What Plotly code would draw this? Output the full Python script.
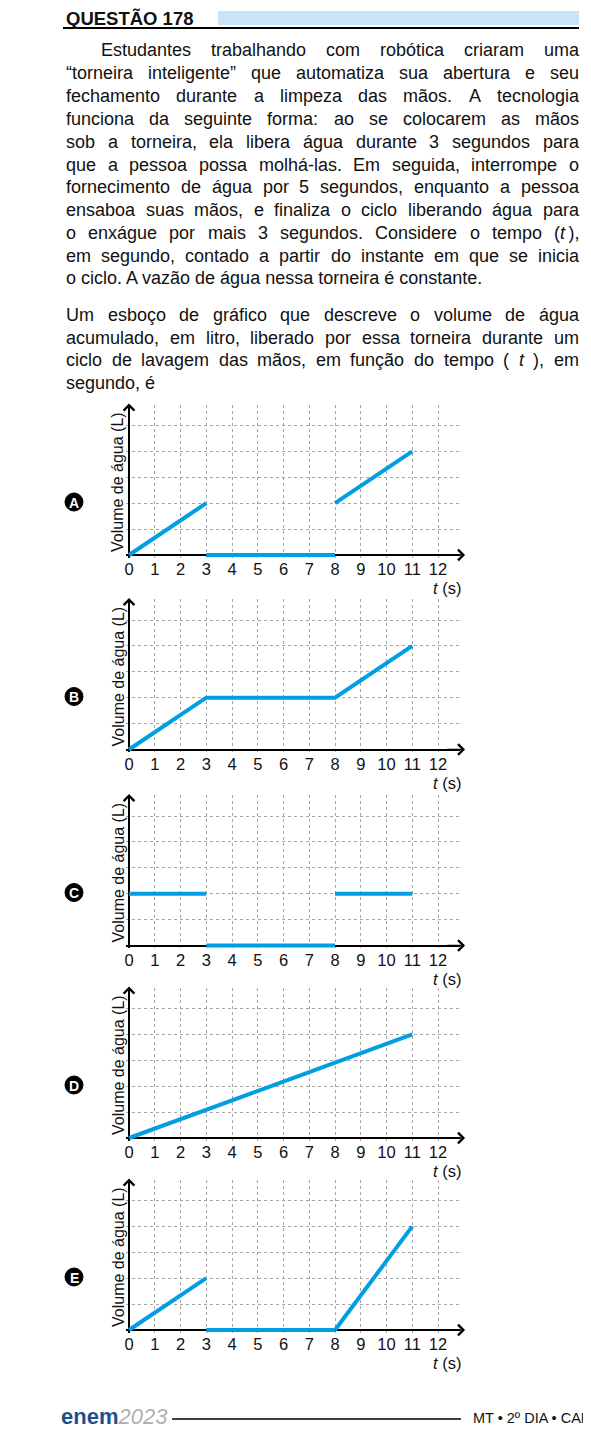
import plotly.graph_objects as go

W, H = 591, 1429
OFF = 8  # page margin around the plot div
FONT = "Liberation Sans, Arial, Helvetica, sans-serif"
BLUE = "#009fe3"
GRID = "#a6a6a6"

# ---------------------------------------------------------------------------
# Data
# ---------------------------------------------------------------------------

option_letters = ["A", "B", "C", "D", "E"]

# line pieces of each sketch: time (s) and volume (grid units)
a_t = [[0, 3], [3, 8], [8, 11]]
a_vol = [[0, 2], [0, 0], [2, 4]]
b_t = [[0, 3, 8, 11]]
b_vol = [[0, 2, 2, 4]]
c_t = [[0, 3], [3, 8], [8, 11]]
c_vol = [[2, 2], [0, 0], [2, 2]]
d_t = [[0, 11]]
d_vol = [[0, 4]]
e_t = [[0, 3], [3, 8], [8, 11]]
e_vol = [[0, 2], [0, 0], [0, 4]]

option_t = [a_t, b_t, c_t, d_t, e_t]
option_vol = [a_vol, b_vol, c_vol, d_vol, e_vol]

t_ticks = list(range(13))
t_tick_labels = [str(t) for t in t_ticks]
vol_grid = [1, 2, 3, 4, 5]
y_title = "Volume de água (L)"

header_text = "QUESTÃO 178"
para1 = [
    "Estudantes trabalhando com robótica criaram uma",
    "“torneira inteligente” que automatiza sua abertura e seu",
    "fechamento durante a limpeza das mãos. A tecnologia",
    "funciona da seguinte forma: ao se colocarem as mãos",
    "sob a torneira, ela libera água durante 3 segundos para",
    "que a pessoa possa molhá-las. Em seguida, interrompe o",
    "fornecimento de água por 5 segundos, enquanto a pessoa",
    "ensaboa suas mãos, e finaliza o ciclo liberando água para",
    "o enxágue por mais 3 segundos. Considere o tempo (<i>t</i>\u2009),",
    "em segundo, contado a partir do instante em que se inicia",
    "o ciclo. A vazão de água nessa torneira é constante.",
]
para2 = [
    "Um esboço de gráfico que descreve o volume de água",
    "acumulado, em litro, liberado por essa torneira durante um",
    "ciclo de lavagem das mãos, em função do tempo ( <i>t</i> ), em",
    "segundo, é",
]
footer_text = "MT • 2º DIA • CADERNO 5"

# ---------------------------------------------------------------------------
# Geometry (pixels of the page)
# ---------------------------------------------------------------------------

AXIS_Y_PX = [555, 749.5, 945.5, 1138, 1330]
X0_PX = 129
UNIT_X = 25.75
UNIT_Y = 25.9
X_MAX = 12.85
Y_MAX = 5.8
PAD = 0.1          # room below/left of zero so the thick blue lines are not clipped
TEXT_L, TEXT_R, INDENT = 65, 578, 100
BODY_SIZE = 18


def px(x):
    return (x - OFF) / W


def py(y):
    return 1 - (y - OFF) / H


# Helvetica/Arial advance widths (per 1000 em), used to justify the text
CHAR_W = {}
for chars, w in [
    ("abdeghnopquáàãâéêóõôú0123456789", 556),
    ("cksvxyzç", 500),
    ("ijl", 222),
    ("ft ,.:;í", 278),
    ("r()-“”", 333),
    ("m", 833),
    ("wCUDHN", 722),
    ("AEÃSBKPVXY", 667),
    ("OQG", 778),
    ("TFZ", 611),
    ("M", 833),
    ("\u2009", 167),
]:
    for ch in chars:
        CHAR_W[ch] = w


def text_w(s, size):
    s = s.replace("<i>", "").replace("</i>", "")
    return sum(CHAR_W.get(c, 556) for c in s) * size / 1000


def text_ann(x, y, text, size=BODY_SIZE, anchor="left", **kw):
    d = dict(x=px(x), y=py(y), xref="paper", yref="paper", text=text,
             showarrow=False, xanchor=anchor, yanchor="middle", borderpad=0,
             font=dict(family=FONT, size=size, color=kw.pop("color", "#111")))
    d.update(kw)
    return d


def paragraph(lines, y0, step, indent_first):
    anns = []
    for i, line in enumerate(lines):
        y = y0 + i * step
        left = INDENT if (i == 0 and indent_first) else TEXT_L
        if i == len(lines) - 1:
            anns.append(text_ann(left, y, line))
            continue
        words = line.split(" ")
        total = sum(text_w(w, BODY_SIZE) for w in words)
        gap = (TEXT_R - left - total) / (len(words) - 1)
        x = left
        for w in words:
            anns.append(text_ann(x, y, w))
            x += text_w(w, BODY_SIZE) + gap
    return anns


# ---------------------------------------------------------------------------
# Figure
# ---------------------------------------------------------------------------

fig = go.Figure()
annotations = []
shapes = []
axes = {}

for k, letter in enumerate(option_letters):
    n = "" if k == 0 else str(k + 1)
    base = AXIS_Y_PX[k]

    for ts, vs in zip(option_t[k], option_vol[k]):
        fig.add_trace(go.Scatter(
            x=ts, y=vs, mode="lines", line=dict(color=BLUE, width=4),
            xaxis=f"x{n}", yaxis=f"y{n}", cliponaxis=False,
            hoverinfo="skip", showlegend=False))

    axes[f"xaxis{n}"] = dict(
        domain=[px(X0_PX - PAD * UNIT_X), px(X0_PX + X_MAX * UNIT_X)],
        range=[-PAD, X_MAX], anchor=f"y{n}",
        tickvals=t_ticks, ticktext=t_tick_labels, ticks="",
        showgrid=True, gridcolor=GRID, griddash="dot", gridwidth=1,
        showline=False, zeroline=True, zerolinecolor="black", zerolinewidth=1.6,
        layer="below traces", fixedrange=True,
        tickfont=dict(family=FONT, size=16.5, color="#111"))
    axes[f"yaxis{n}"] = dict(
        domain=[py(base + PAD * UNIT_Y), py(base - Y_MAX * UNIT_Y)],
        range=[-PAD, Y_MAX], anchor=f"x{n}",
        tickvals=vol_grid, showticklabels=False, ticks="",
        showgrid=True, gridcolor=GRID, griddash="dot", gridwidth=1,
        showline=False, zeroline=True, zerolinecolor="black", zerolinewidth=1.6,
        layer="below traces", fixedrange=True)

    # arrow heads on both axes
    annotations.append(dict(x=13.05, y=0, ax=12.3, ay=0, xref=f"x{n}", yref=f"y{n}",
                            axref=f"x{n}", ayref=f"y{n}", text="", showarrow=True,
                            arrowhead=4, arrowsize=1.3, arrowwidth=1.6, arrowcolor="black"))
    annotations.append(dict(x=0, y=5.85, ax=0, ay=5.2, xref=f"x{n}", yref=f"y{n}",
                            axref=f"x{n}", ayref=f"y{n}", text="", showarrow=True,
                            arrowhead=4, arrowsize=1.3, arrowwidth=1.6, arrowcolor="black"))

    annotations.append(text_ann(118, base - 73, y_title, size=16, anchor="center",
                                textangle=-90))
    annotations.append(text_ann(447, base + 33, "<i>t</i> (s)", size=16.5, anchor="center"))

    # option badge
    cx, cy, r = 74, base - 53, 9
    shapes.append(dict(type="circle", xref="paper", yref="paper",
                       x0=px(cx - r), x1=px(cx + r), y0=py(cy + r), y1=py(cy - r),
                       fillcolor="black", line=dict(color="black", width=1)))
    annotations.append(text_ann(cx, cy + 0.5, f"<b>{letter}</b>", size=14,
                                anchor="center", color="white"))

# header
shapes.append(dict(type="rect", xref="paper", yref="paper", x0=px(218), x1=px(579),
                   y0=py(25), y1=py(11), fillcolor="#c8e4f6", line=dict(width=0)))
shapes.append(dict(type="line", xref="paper", yref="paper", x0=px(63), x1=px(579),
                   y0=py(28), y1=py(28), line=dict(color="black", width=2)))
annotations.append(text_ann(65, 18.5, f"<b>{header_text}</b>", size=18.5))

# right column rule
shapes.append(dict(type="line", xref="paper", yref="paper", x0=px(586), x1=px(586),
                   y0=py(9), y1=py(1387), line=dict(color="black", width=1.3)))

annotations += paragraph(para1, 50.5, 22.8, True)
annotations += paragraph(para2, 315, 22.5, False)

# footer
annotations.append(text_ann(
    60, 1416,
    '<span style="color:#1d4f91"><b>enem</b></span>'
    '<span style="color:#b0b0b0"><i>2023</i></span>', size=22))
shapes.append(dict(type="line", xref="paper", yref="paper", x0=px(172), x1=px(461),
                   y0=py(1419), y1=py(1419), line=dict(color="black", width=1.6)))
annotations.append(text_ann(472, 1418, footer_text, size=14.5))

fig.update_layout(
    width=W, height=H,
    margin=dict(l=0, r=0, t=0, b=0),
    paper_bgcolor="white", plot_bgcolor="white",
    template="none",
    showlegend=False,
    font=dict(family=FONT, color="#111"),
    annotations=annotations,
    shapes=shapes,
    **axes,
)

fig.write_html("out.html")
